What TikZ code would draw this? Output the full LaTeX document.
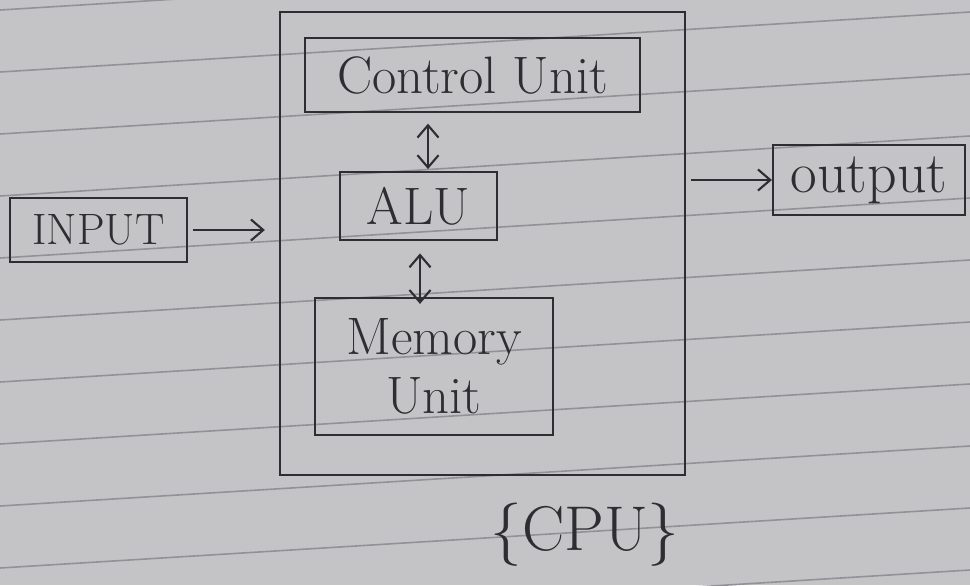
\documentclass[tikz,border=0pt]{standalone}
\usepackage{tikz}
\usetikzlibrary{positioning, arrows.meta, calc}
\definecolor{paper}{RGB}{196,196,198}
\definecolor{rule}{RGB}{145,145,152}
\definecolor{pencil}{RGB}{45,45,50}
\tikzset{
    unitbox/.style={
        draw=pencil,
        line width=1.3pt,
        inner sep=0pt,
        text=pencil,
        font=\fontsize{30}{34}\selectfont
    },
    link/.style={
        line width=1.2pt,
        draw=pencil,
        -{Straight Barb[length=7pt,width=12pt]}
    },
    twoway/.style={
        line width=1.2pt,
        draw=pencil,
        {Straight Barb[length=7pt,width=12pt]}-{Straight Barb[length=7pt,width=12pt]}
    }
}

\begin{document}
\begin{tikzpicture}[x=0.02cm, y=-0.02cm]

%---------------- Paper ----------------

\fill[paper] (0,0) rectangle (970,585);
\useasboundingbox (0,0) rectangle (970,585);
\foreach \y in {10,72,134,196,258,320,382,444,506,568,630}
    \draw[rule, line width=0.9pt] (0,\y) -- (970,\y-60);

%---------------- CPU ----------------

\node[unitbox, minimum width=8.1cm, minimum height=9.26cm] (cpu) at (482.5,243.5) {};
\node[unitbox, minimum width=6.7cm, minimum height=1.48cm] (cu) at (472.5,75) {Control Unit};
\node[unitbox, minimum width=3.14cm, minimum height=1.36cm] (alu) at (418.5,206) {ALU};
\node[unitbox, minimum width=4.76cm, minimum height=2.74cm, align=center] (mem) at (434,366.5) {Memory\\Unit};

\draw[twoway, shorten <=1pt, shorten >=6pt] (alu.north -| 428,0) -- (cu.south -| 428,0);
\draw[twoway, shorten <=7pt, shorten >=-4pt] (alu.south -| 420,0) -- (mem.north -| 420,0);

\node[text=pencil, font=\fontsize{36}{40}\selectfont] (cpulabel) at (585,535) {\{CPU\}};

%---------------- Input / Output ----------------

\node[unitbox, minimum width=3.54cm, minimum height=1.28cm, font=\fontsize{25}{30}\selectfont] (input) at (98.5,230) {INPUT};
\node[unitbox, minimum width=3.84cm, minimum height=1.4cm, font=\fontsize{33}{36}\selectfont] (output) at (869,180) {output};

\draw[link, shorten <=3pt, shorten >=8pt] (input.east) -- (input.east -| cpu.west);
\draw[link, shorten <=3pt] (cpu.east |- output.west) -- (output.west);

\end{tikzpicture}
\end{document}
